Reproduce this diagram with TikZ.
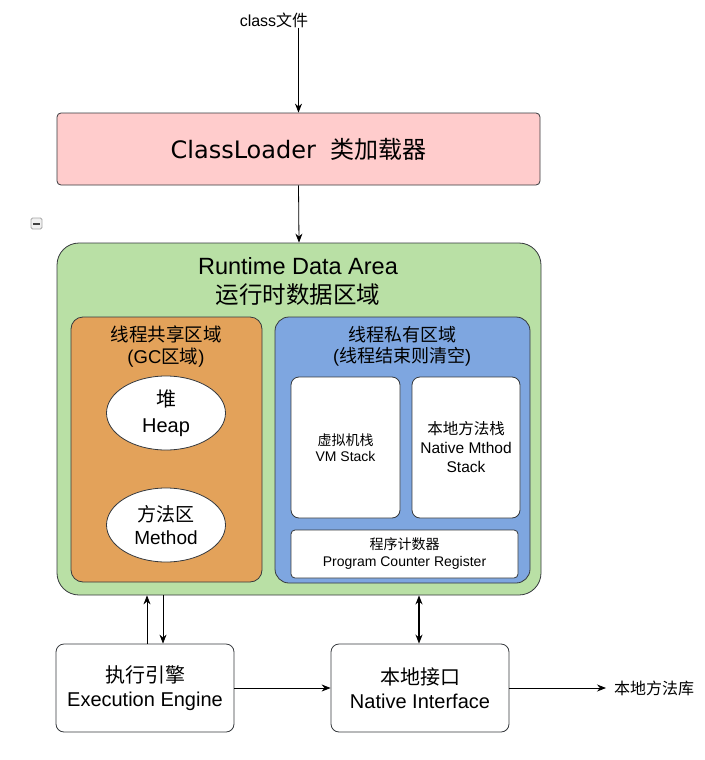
\documentclass[tikz,border=0pt]{standalone}
\usepackage{fontspec}
\usetikzlibrary{arrows.meta,shapes.geometric}
\setmainfont{Liberation Sans}
\newfontfamily\cjk{Noto Sans CJK SC}
\newfontfamily\verd{DejaVu Sans}
\definecolor{loaderpink}{HTML}{FFCCCC}
\definecolor{areagreen}{HTML}{B9E0A5}
\definecolor{sharedorange}{HTML}{E3A25A}
\definecolor{privateblue}{HTML}{7EA6E0}
\definecolor{edgegray}{HTML}{36393D}

\begin{document}
\begin{tikzpicture}[x=1pt,y=-1pt,
  box/.style={draw=edgegray, line width=0.8pt, inner sep=0pt, align=center},
  label/.style={inner sep=0pt, align=center},
  arr/.style={-{Stealth[length=9pt,width=7pt]}, line width=0.8pt},
  dbl/.style={{Stealth[length=9pt,width=7pt]}-{Stealth[length=9pt,width=7pt]}, line width=1.6pt}]
\useasboundingbox (0,0) rectangle (704,760);
% top: input and class loader
\node [label, font=\fontsize{16}{19}\selectfont] (cls) at (274,20) {class{\cjk 文件}};
\node [box, fill=loaderpink, rounded corners=4pt, minimum width=483pt, minimum height=72pt,
  font=\fontsize{24}{29}\selectfont] (loader) at (298.5,149) {{\verd ClassLoader}\hspace{0.6em}{\cjk 类加载器}};
% fold icon
\node [draw=gray!70, fill=gray!12, rounded corners=1.5pt, minimum size=11pt, inner sep=0pt, line width=0.8pt] (fold) at (36.5,223.5) {};
\draw [line width=2pt, black!75] ([xshift=-3.5pt]fold.center) -- ([xshift=3.5pt]fold.center);
% runtime data area
\node [box, fill=areagreen, rounded corners=22pt, minimum width=484pt, minimum height=352pt] (rda) at (299,419) {};
\node [label, font=\fontsize{23.5}{29}\selectfont] (rdaTitle) at (298,281) {Runtime Data Area\\{\cjk 运行时数据区域}};
% shared area
\node [box, fill=sharedorange, rounded corners=12pt, minimum width=191pt, minimum height=265pt] (shared) at (166.5,449.5) {};
\node [label, font=\fontsize{18.5}{22}\selectfont] (sharedTitle) at (166,347) {{\cjk 线程共享区域}\\({GC\cjk 区域})};
\node [box, ellipse, fill=white, minimum width=119pt, minimum height=74pt,
  font=\fontsize{20}{26}\selectfont] (heap) at (166,413) {{\cjk 堆}\\Heap};
\node [box, ellipse, fill=white, minimum width=119pt, minimum height=74pt,
  font=\fontsize{19}{23}\selectfont] (method) at (166,525) {{\cjk 方法区}\\Method};
% private area
\node [box, fill=privateblue, rounded corners=14pt, minimum width=255pt, minimum height=266pt] (private) at (402.5,450) {};
\node [label, font=\fontsize{18}{21}\selectfont] (privateTitle) at (402,346.5) {{\cjk 线程私有区域}\\({\cjk 线程结束则清空})};
\node [box, fill=white, rounded corners=8pt, minimum width=109pt, minimum height=141pt,
  font=\fontsize{14}{16}\selectfont] (vmStack) at (345.5,447.5) {{\cjk 虚拟机栈}\\VM Stack};
\node [box, fill=white, rounded corners=8pt, minimum width=108pt, minimum height=141pt,
  font=\fontsize{15.5}{19}\selectfont] (nativeStack) at (466,447.5) {{\cjk 本地方法栈}\\Native Mthod\\Stack};
\node [box, fill=white, rounded corners=4pt, minimum width=227pt, minimum height=48pt,
  font=\fontsize{14}{17}\selectfont] (pcReg) at (404.5,554) {{\cjk 程序计数器}\\Program Counter Register};
% bottom row
\node [box, fill=white, rounded corners=8pt, minimum width=178pt, minimum height=88pt,
  font=\fontsize{20}{24}\selectfont] (exec) at (145,688) {{\cjk 执行引擎}\\Execution Engine};
\node [box, fill=white, rounded corners=8pt, minimum width=178pt, minimum height=88pt,
  font=\fontsize{20}{24}\selectfont] (native) at (420,688) {{\cjk 本地接口}\\Native Interface};
\node [label, font=\fontsize{16}{19}\selectfont, anchor=west] (lib) at (614,688) {{\cjk 本地方法库}};
% connectors
\draw [arr] (cls.south -| loader.north) -- (loader.north);
\draw [arr] (loader.south) -- (rda.north);
\draw [arr] ([xshift=2pt]exec.north) -- ([xshift=2pt]exec.north |- rda.south);
\draw [arr] ([xshift=18pt]exec.north |- rda.south) -- ([xshift=18pt]exec.north);
\draw [dbl] ([xshift=-1pt]native.north) -- ([xshift=-1pt]native.north |- rda.south);
\draw [arr] (exec.east) -- (native.west);
\draw [arr] (native.east) -- ([xshift=-8pt]lib.west);
\end{tikzpicture}
\end{document}
